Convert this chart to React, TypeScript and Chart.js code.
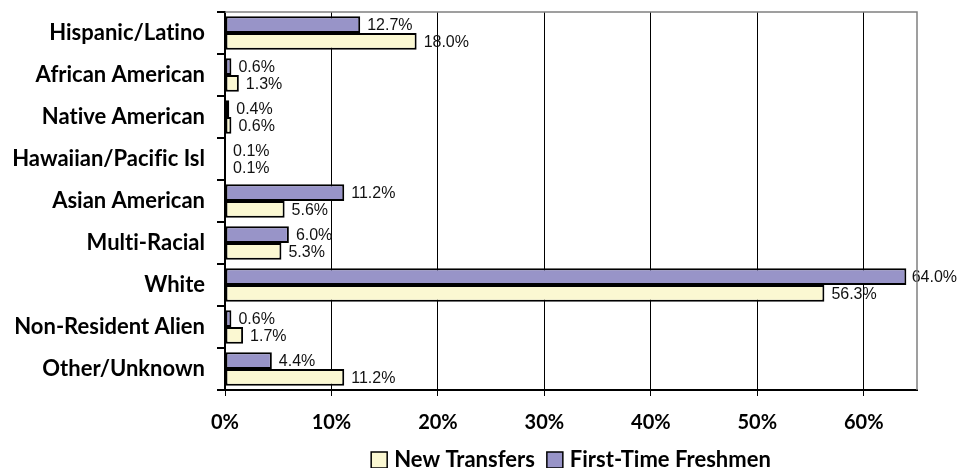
import React, { useEffect, useRef } from "react";
import { Chart, registerables } from "chart.js";

Chart.register(...registerables);

const categories = [
  "Hispanic/Latino",
  "African American",
  "Native American",
  "Hawaiian/Pacific Isl",
  "Asian American",
  "Multi-Racial",
  "White",
  "Non-Resident Alien",
  "Other/Unknown",
];
const firstTimeFreshmen = [12.7, 0.6, 0.4, 0.1, 11.2, 6.0, 64.0, 0.6, 4.4];
const newTransfers = [18.0, 1.3, 0.6, 0.1, 5.6, 5.3, 56.3, 1.7, 11.2];
const seriesNames = ["First-Time Freshmen", "New Transfers"];
const seriesColors = ["#9894c8", "#fbf8d2"];
const xMin = 0;
const xMax = 65;
const xStep = 10;

const LABEL_FONT = "Lato, 'Open Sans', sans-serif";

const noLigaturePlugin = {
  id: "noLigatures",
  beforeDraw(chart: any) {
    const ctx = chart.ctx;
    try {
      ctx.textRendering = "optimizeSpeed";
    } catch (e) {}
  },
};

const dataLabelPlugin = {
  id: "dataLabels",
  afterDatasetsDraw(chart: any) {
    const ctx = chart.ctx;
    ctx.save();
    ctx.font = "16px 'Liberation Sans', Arial, sans-serif";
    ctx.fillStyle = "#111";
    ctx.textBaseline = "middle";
    ctx.textAlign = "left";
    chart.data.datasets.forEach((ds: any, di: number) => {
      const meta = chart.getDatasetMeta(di);
      meta.data.forEach((bar: any, i: number) => {
        const txt = Number(ds.data[i]).toFixed(1) + "%";
        const w = ctx.measureText(txt).width;
        let x = bar.x + 7;
        if (x + w > chart.width - 4) x = chart.width - 4 - w;
        ctx.fillText(txt, x, bar.y + 1);
      });
    });
    ctx.restore();
  },
};

const framePlugin = {
  id: "frame",
  afterDraw(chart: any) {
    const { ctx, chartArea } = chart;
    ctx.save();
    ctx.strokeStyle = "#808080";
    ctx.lineWidth = 1.5;
    ctx.beginPath();
    ctx.moveTo(chartArea.left, chartArea.top);
    ctx.lineTo(chartArea.right, chartArea.top);
    ctx.lineTo(chartArea.right, chartArea.bottom);
    ctx.stroke();
    ctx.restore();
  },
};

const legendPlugin = {
  id: "customLegend",
  afterDraw(chart: any) {
    const { ctx, chartArea } = chart;
    const order = [1, 0];
    const box = 16;
    const gap = 7;
    const itemGap = 12;
    ctx.save();
    try {
      ctx.textRendering = "optimizeSpeed";
    } catch (e) {}
    ctx.font = `bold 22px ${LABEL_FONT}`;
    ctx.textBaseline = "middle";
    const widths = order.map((i) => ctx.measureText(chart.data.datasets[i].label).width);
    const total = widths.reduce((a, b) => a + b, 0) + order.length * (box + gap) + itemGap * (order.length - 1);
    let x = (chartArea.left + chartArea.right) / 2 - total / 2;
    const y = 460;
    order.forEach((di, k) => {
      const ds = chart.data.datasets[di];
      ctx.fillStyle = ds.backgroundColor;
      ctx.fillRect(x, y - box / 2, box, box);
      ctx.strokeStyle = "#000";
      ctx.lineWidth = 1.5;
      ctx.strokeRect(x, y - box / 2, box, box);
      x += box + gap;
      ctx.fillStyle = "#000";
      ctx.fillText(ds.label, x, y);
      x += widths[k] + itemGap;
    });
    ctx.restore();
  },
};

export default function App() {
  const canvasRef = useRef<HTMLCanvasElement>(null);

  useEffect(() => {
    const canvas = canvasRef.current;
    if (!canvas) return;
    const chart = new Chart(canvas, {
      type: "bar",
      data: {
        labels: categories,
        datasets: [
          {
            label: seriesNames[0],
            data: firstTimeFreshmen,
            backgroundColor: seriesColors[0],
            borderColor: "#000",
            borderWidth: 2,
            borderSkipped: false,
            categoryPercentage: 0.8,
            barPercentage: 1.0,
          },
          {
            label: seriesNames[1],
            data: newTransfers,
            backgroundColor: seriesColors[1],
            borderColor: "#000",
            borderWidth: 2,
            borderSkipped: false,
            categoryPercentage: 0.8,
            barPercentage: 1.0,
          },
        ],
      },
      options: {
        indexAxis: "y",
        animation: false,
        responsive: true,
        maintainAspectRatio: false,
        layout: { padding: { top: 12, right: 44, left: 0, bottom: 0 } },
        plugins: {
          legend: { display: false },
          tooltip: { enabled: false },
        },
        scales: {
          x: {
            type: "linear",
            min: xMin,
            max: xMax,
            afterFit: (s: any) => {
              s.height = 78;
              s.paddingLeft = 0;
              s.paddingRight = 0;
            },
            ticks: {
              stepSize: xStep,
              includeBounds: false,
              padding: 15,
              color: "#000",
              font: { family: LABEL_FONT, weight: "bold", size: 20 },
              callback: (v: any) => v + "%",
            },
            grid: {
              color: "#000",
              lineWidth: 1,
              tickColor: "#000",
              tickLength: 6,
              drawTicks: true,
            },
            border: { display: true, color: "#000", width: 2 },
          },
          y: {
            type: "category",
            afterFit: (s: any) => {
              s.width = 225;
              s.paddingTop = 0;
              s.paddingBottom = 0;
            },
            ticks: {
              padding: 12,
              color: "#000",
              font: { family: LABEL_FONT, weight: "bold", size: 22 },
            },
            grid: {
              offset: true,
              drawOnChartArea: false,
              drawTicks: true,
              tickLength: 8,
              tickColor: "#000",
              lineWidth: 2,
            },
            border: { display: true, color: "#000", width: 2 },
          },
        },
      },
      plugins: [noLigaturePlugin, framePlugin, dataLabelPlugin, legendPlugin],
    } as any);
    return () => chart.destroy();
  }, []);

  return (
    <div style={{ position: "fixed", left: 0, top: 0, width: 961, height: 468, background: "#fff" }}>
      <canvas ref={canvasRef} />
    </div>
  );
}
